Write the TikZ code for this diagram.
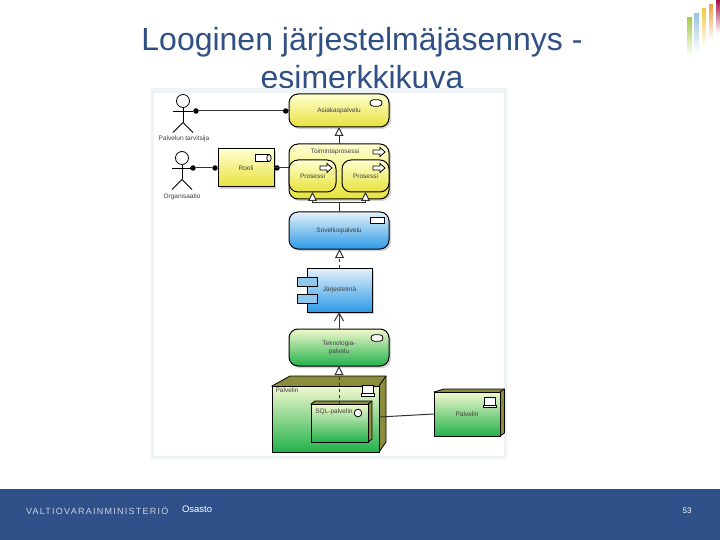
\documentclass[tikz,border=0pt]{standalone}
\usepackage{fontspec}
\setmainfont{Liberation Sans}
\newfontfamily\spacedfont[LetterSpace=14]{Liberation Sans}
\usetikzlibrary{arrows.meta,shadows,calc}
\definecolor{navy}{HTML}{2F5088}
\definecolor{titleblue}{HTML}{2F4F85}
\definecolor{paneblue}{HTML}{EEF3F8}
\definecolor{yl}{HTML}{E6E23C}
\definecolor{yllight}{HTML}{FFFFD0}
\definecolor{bl}{HTML}{2C9AE6}
\definecolor{bllight}{HTML}{E4F1FA}
\definecolor{gr}{HTML}{22B14C}
\definecolor{grlight}{HTML}{F2F8CE}
\definecolor{olive}{HTML}{8C8C3C}
\definecolor{compblue}{HTML}{8FC8EA}
\tikzset{
  every node/.style={inner sep=0pt,outer sep=0pt,font=\fontsize{6.5}{8}\selectfont,text=black!75},
  shade yellow/.style={top color=yllight,bottom color=yl},
  shade blue/.style={top color=bllight,bottom color=bl},
  shade green/.style={top color=grlight,bottom color=gr},
  element/.style={draw=black,line width=1pt,align=center},
  svc/.style={element,rounded corners=9pt,drop shadow={shadow xshift=2pt,shadow yshift=-2pt,fill=black!35}},
  plainbox/.style={element,drop shadow={shadow xshift=2pt,shadow yshift=-2pt,fill=black!35}},
  dot/.style={circle,fill=black,minimum size=5.5pt},
  conn/.style={draw=black!80,line width=1pt},
  realize/.style={conn,-{Triangle[open,fill=white,length=9pt,width=9pt]}},
  realdash/.style={realize,dashed},
  usedby/.style={conn,-{Straight Barb[length=8pt,width=9pt]}},
  icon/.style={draw=black,line width=.8pt,fill=white},
  side/.style={draw=black,line width=.8pt,fill=olive},
}
% actor: name, head x, head y
\newcommand{\actor}[3]{%
  \node[draw=black,line width=.8pt,fill=white,circle,minimum size=13pt] (#1) at (#2,#3) {};
  \draw[line width=.8pt] (#1.south) -- ++(0,15) coordinate (#1hip);
  \draw[line width=.8pt] (#2-10,#3+10) coordinate (#1l) -- (#2+10,#3+10) coordinate (#1r);
  \draw[line width=.8pt] ($(#1hip)+(-10,10)$) -- (#1hip) -- ($(#1hip)+(10,10)$);
}
% 3D box: name, x1,y1,x2,y2, dx, dy, shading, text; \lslant = slant of the top left edge
\newcommand{\nodebox}[9]{%
  \path[side] (#2,#3) -- ++(\lslant,-#7) -- (#4+#6,#3-#7) -- (#4+#6,#5-#7) -- (#4,#5) -- cycle;
  \draw[line width=.8pt] (#4,#3) -- ++(#6,-#7);
  \node[element,#8,minimum width=#4pt-#2pt,minimum height=#5pt-#3pt,anchor=north west] (#1) at (#2,#3) {#9};
}
\newcommand{\svcicon}[2]{\draw[icon,rounded corners=3.2pt] (#1-6,#2-3.2) rectangle (#1+6,#2+3.2);}
\newcommand{\appicon}[2]{\draw[icon] (#1-7,#2-3) rectangle (#1+7,#2+3);}
\newcommand{\procicon}[2]{\draw[icon] (#1-6,#2-2) -- (#1+1,#2-2) -- (#1+1,#2-4.5) -- (#1+6,#2) -- (#1+1,#2+4.5) -- (#1+1,#2+2) -- (#1-6,#2+2) -- cycle;}
\newcommand{\monicon}[2]{\draw[icon] (#1-5.5,#2-5) rectangle (#1+5.5,#2+3); \draw[icon] (#1-6.5,#2+3) rectangle (#1+6.5,#2+5.5);}
\begin{document}
\begin{tikzpicture}[x=1pt,y=-1pt]
\useasboundingbox (0,0) rectangle (720,540);
\fill[white] (0,0) rectangle (720,540);
% title
\node[font=\fontsize{32}{38}\selectfont,text=titleblue,align=center,anchor=north] (title) at (362,27) {Looginen järjestelmäjäsennys -\\esimerkkikuva};
% pane
\node[fill=paneblue,minimum width=356pt,minimum height=371pt,anchor=north west] (pane) at (151,88) {};
\node[fill=white,minimum width=350pt,minimum height=363pt,anchor=north west] (inner) at (154,93) {};
% colour bars
\foreach \a/\b/\c/\d/\col in {687/18/692/57/A9CB4C, 694/14/699/53/9CC3E4, 702/9/706/47/F2C94C, 709/5/713/40/E8A24C, 716/0/720/33/A5134F}{
  \definecolor{barc}{HTML}{\col}
  \shade[top color=barc,bottom color=white] (\a,\b) rectangle (\c,\d);
}
% footer
\node[fill=navy,minimum width=720pt,minimum height=51pt,anchor=north west] (footer) at (0,489) {};
\node[font=\spacedfont\fontsize{9}{10}\selectfont,text=navy!25,anchor=west] (vm) at (26,510.5) {VALTIOVARAINMINISTERIÖ};
\node[font=\fontsize{9.5}{10}\selectfont,text=white,anchor=west] (osasto) at (182,509.5) {Osasto};
\node[font=\fontsize{8}{10}\selectfont,text=white] (pageno) at (687,511) {53};
% elements
\node[svc,shade yellow,minimum width=100pt,minimum height=33pt] (asi) at (339,110.5) {Asiakaspalvelu};
\svcicon{376}{103}
\node[svc,shade yellow,minimum width=100pt,minimum height=55pt] (toim) at (339,171.5) {};
\node (toimt) at (335,152) {Toimintaprosessi};
\procicon{379}{152}
\node[element,rounded corners=9pt,shade yellow,minimum width=47pt,minimum height=32pt] (p1) at (312.5,176) {Prosessi};
\node[element,rounded corners=9pt,shade yellow,minimum width=47pt,minimum height=32pt] (p2) at (365.5,176) {Prosessi};
\procicon{326}{168}
\procicon{379}{168}
\node[plainbox,shade yellow,minimum width=56pt,minimum height=38pt] (rooli) at (246,168) {Rooli};
\draw[icon] (255,154.5) rectangle (269,161.5);
\draw[icon] (269,158) ellipse (2.2pt and 3.5pt);
\node[svc,shade blue,minimum width=100pt,minimum height=37pt] (sov) at (339,230.5) {Sovelluspalvelu};
\appicon{377}{220.5}
\node[plainbox,shade blue,minimum width=65pt,minimum height=44pt] (jar) at (339.5,290) {Järjestelmä};
\draw[icon,fill=compblue] (297,277) rectangle (317,286);
\draw[icon,fill=compblue] (297,294) rectangle (317,303);
\node[svc,shade green,minimum width=100pt,minimum height=37pt] (tek) at (339,347.5) {Teknologia-\\palvelu};
\svcicon{377}{338}
% infrastructure nodes
\def\lslant{18}
\nodebox{pal}{272}{386}{379}{452}{7}{10}{shade green}{}
\node (palt) at (287,390) {Palvelin};
\monicon{368}{390.5}
\def\lslant{4}
\nodebox{sql}{311}{404}{368}{442}{4}{3}{shade green}{}
\node (sqlt) at (334,412) {SQL-palvelin};
\draw[icon] (358,413) circle (3.8pt);
\def\lslant{10}
\nodebox{pal2}{434}{392}{500}{436}{4.5}{3}{shade green}{Palvelin}
\monicon{490}{402}
% actors
\actor{a1}{183}{101}
\node (a1t) at (184,139) {Palvelun tarvitsija};
\actor{a2}{182}{158}
\node (a2t) at (182,197) {Organisaatio};
% dots and connectors
\node[dot] (d1) at (196,111) {};
\node[dot] (d2) at (285.7,111) {};
\node[dot] (d3) at (193,168) {};
\node[dot] (d4) at (215,168) {};
\node[dot] (d5) at (277,168) {};
\draw[conn] (a1r) -- (d1) -- (d2) -- (d2 -| asi.west);
\draw[conn] (a2r) -- (d3) -- (d4) -- (d4 -| rooli.west);
\draw[conn] (rooli.east) -- (rooli.east -| toim.west);
\path[realize] (toim.north) -- (asi.south);
\coordinate (split) at (339,203);
\path[realize] (sov.north) -- (split) -| (p1.south);
\path[realize] (split) -| (p2.south);
\path[realdash] (jar.north) -- (jar.north |- sov.south);
\path[usedby] (tek.north) -- (tek.north |- jar.south);
\coordinate (sqltop) at (339,404);
\path[realdash] (sqltop) -- (sqltop |- tek.south);
\draw[conn] (pal.east |- 0,417) -- (pal2.west |- 0,414);
\end{tikzpicture}
\end{document}
